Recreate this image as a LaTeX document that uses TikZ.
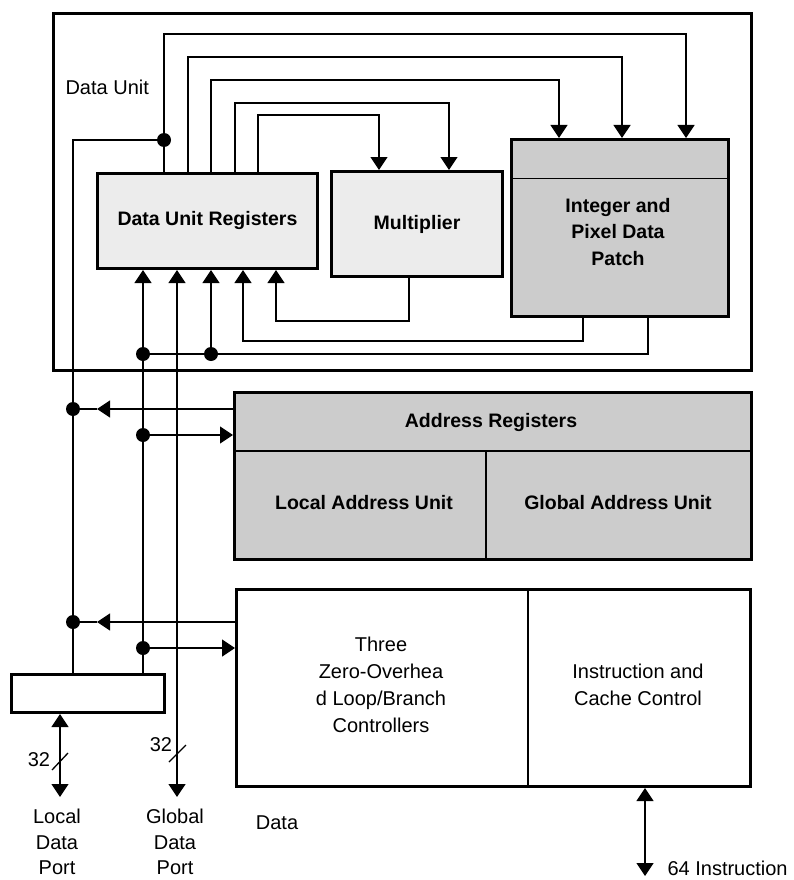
\documentclass[tikz,border=0pt]{standalone}
\usepackage{fontspec}
\setmainfont{Liberation Sans}
\usetikzlibrary{arrows.meta,positioning,calc}

\begin{document}
\begin{tikzpicture}[
  x=1pt, y=-1pt,
  every node/.style={font=\fontsize{20}{27}\selectfont},
  unit/.style={rectangle, draw, line width=3pt, inner sep=0pt, anchor=north west},
  lite/.style={unit, fill=gray!15},
  dark/.style={unit, fill=gray!40},
  lbl/.style={align=center, font=\bfseries\fontsize{19.5}{26.5}\selectfont},
  port/.style={align=center, font=\fontsize{20}{25.5}\selectfont},
  wire/.style={line width=1.3pt},
  arrow/.style={wire, -{Triangle[width=17pt,length=13pt]}},
  both/.style={wire, {Triangle[width=17pt,length=13pt]}-{Triangle[width=17pt,length=13pt]}},
  dot/.style={circle, fill, inner sep=0pt, minimum size=14pt}
]
  \useasboundingbox (0,0) rectangle (793,880);

  % data unit
  \node[unit, minimum width=698pt, minimum height=357pt] (du) at (52,12) {};
  \node[anchor=west] (dulbl) at (62,87) {Data Unit};
  \node[lite, lbl, minimum width=220pt, minimum height=95pt] (dur) at (96,172) {Data Unit Registers};
  \node[lite, lbl, minimum width=171pt, minimum height=105pt] (mul) at (330,170) {Multiplier};
  \node[dark, minimum width=217pt, minimum height=177pt] (idp) at (510,138) {};
  \draw[line width=1pt] ([yshift=-40pt]idp.north west) -- ([yshift=-40pt]idp.north east);
  \node[lbl] (idpt) at (618,232) {Integer and\\Pixel Data\\Patch};

  % address unit
  \node[dark, minimum width=517pt, minimum height=167pt] (ar) at (233,391) {};
  \draw[line width=2pt] ([yshift=-60pt]ar.north west) -- ([yshift=-60pt]ar.north east);
  \draw[line width=2pt] (486,451) -- (486,0 |- ar.south);
  \node[lbl] (arl) at (491,422) {Address Registers};
  \node[lbl] (lau) at (364,503) {Local Address Unit};
  \node[lbl] (gau) at (618,503) {Global Address Unit};

  % program control
  \node[unit, minimum width=514pt, minimum height=197pt] (ctl) at (235,588) {};
  \draw[line width=1.3pt] (528,0 |- ctl.north) -- (528,0 |- ctl.south);
  \node[align=center] (zol) at (381,685) {Three\\Zero-Overhea\\d Loop/Branch\\Controllers};
  \node[align=center] (icc) at (638,685) {Instruction and\\Cache Control};

  % data port buffer
  \node[unit, minimum width=153pt, minimum height=38pt] (buf) at (10,673) {};

  % register outputs
  \draw[arrow] (164,0 |- dur.north) -- (164,34) -- (686,34) -- (686,0 |- idp.north);
  \draw[arrow] (188,0 |- dur.north) -- (188,57) -- (622,57) -- (622,0 |- idp.north);
  \draw[arrow] (211,0 |- dur.north) -- (211,80) -- (559,80) -- (559,0 |- idp.north);
  \draw[arrow] (235,0 |- dur.north) -- (235,103) -- (449,103) -- (449,0 |- mul.north);
  \draw[arrow] (258,0 |- dur.north) -- (258,115) -- (379,115) -- (379,0 |- mul.north);
  \node[dot] (d1) at (164,140) {};
  \draw[wire] (d1.center) -- (73,140) -- (73,0 |- buf.north);

  % register inputs
  \draw[arrow] (409,0 |- mul.south) -- (409,321) -- (276,321) -- (276,0 |- dur.south);
  \draw[arrow] (583,0 |- idp.south) -- (583,341) -- (243,341) -- (243,0 |- dur.south);
  \node[dot] (d2) at (143,354) {};
  \node[dot] (d3) at (211,354) {};
  \draw[wire] (648,0 |- idp.south) -- (648,354) -- (d2.center);
  \draw[arrow] (d3.center) -- (211,0 |- dur.south);
  \draw[arrow] (143,0 |- buf.north) -- (143,0 |- dur.south);
  \coordinate (gport) at (177,797);
  \draw[both] (gport) -- (177,0 |- dur.south);

  % address and control links
  \node[dot] (d4) at (143,435) {};
  \draw[arrow] (d4.center) -- (d4 -| ar.west);
  \node[dot] (d5) at (73,409) {};
  \coordinate (t1) at (97,409);
  \draw[arrow] (d5 -| ar.west) -- (t1);
  \draw[wire] (t1) -- (d5.center);
  \node[dot] (d6) at (143,648) {};
  \draw[arrow] (d6.center) -- (d6 -| ctl.west);
  \node[dot] (d7) at (73,622) {};
  \coordinate (t2) at (97,622);
  \draw[arrow] (d7 -| ctl.west) -- (t2);
  \draw[wire] (t2) -- (d7.center);

  % ports
  \coordinate (lport) at (60,797);
  \draw[both] (lport) -- (60,0 |- buf.south);
  \draw[wire] (52,770) -- (68,753);
  \draw[wire] (169,762) -- (186,745);
  \node (w1) at (39,760) {32};
  \node (w2) at (161,745) {32};
  \node[port] (lp) at (57,842) {Local\\Data\\Port};
  \node[port] (gp) at (175,842) {Global\\Data\\Port};
  \node (dp) at (277,823) {Data};
  \coordinate (iport) at (645,876);
  \draw[both] (iport) -- (645,0 |- ctl.south);
  \node[anchor=west] (ip) at (664,868) {64 Instruction};
\end{tikzpicture}
\end{document}
